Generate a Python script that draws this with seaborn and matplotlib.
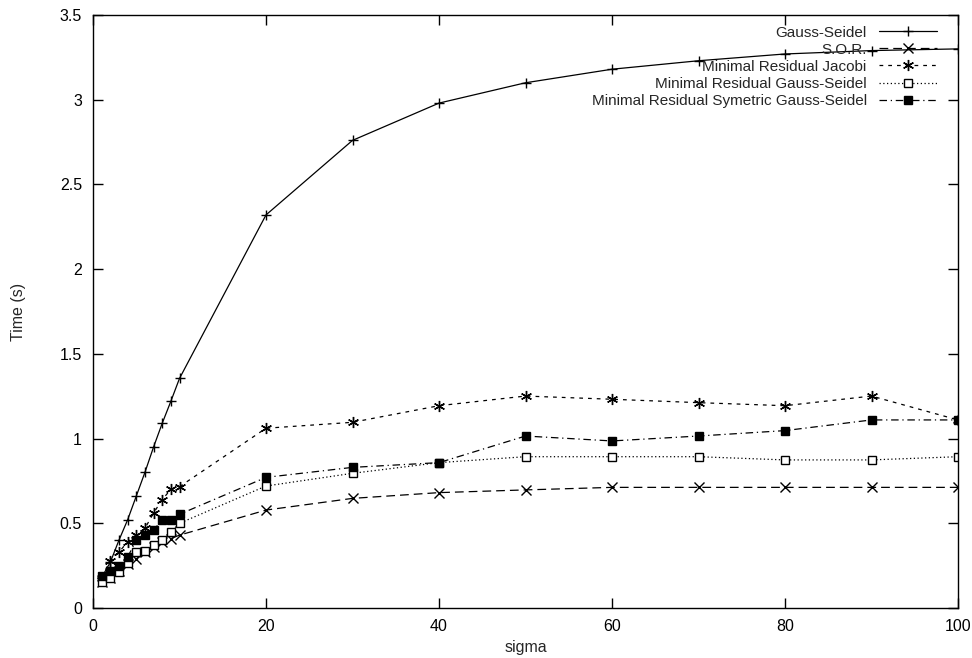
import matplotlib
matplotlib.use("Agg")
import matplotlib.pyplot as plt
import seaborn as sns
import pandas as pd

sigma = [1, 2, 3, 4, 5, 6, 7, 8, 9, 10, 20, 30, 40, 50, 60, 70, 80, 90, 100]

gauss_seidel = [0.18, 0.27, 0.40, 0.52, 0.66, 0.80, 0.95, 1.09, 1.22, 1.355,
                2.32, 2.76, 2.98, 3.10, 3.18, 3.23, 3.27, 3.29, 3.30]
sor = [0.155, 0.18, 0.22, 0.26, 0.29, 0.33, 0.36, 0.39, 0.41, 0.43,
       0.578, 0.647, 0.681, 0.697, 0.712, 0.712, 0.712, 0.712, 0.712]
mr_jacobi = [0.18, 0.28, 0.33, 0.39, 0.43, 0.47, 0.56, 0.64, 0.70, 0.716,
             1.061, 1.096, 1.194, 1.251, 1.232, 1.212, 1.194, 1.251, 1.11]
mr_gauss_seidel = [0.155, 0.175, 0.21, 0.265, 0.33, 0.335, 0.37, 0.40, 0.45, 0.50,
                   0.72, 0.795, 0.858, 0.893, 0.893, 0.893, 0.874, 0.874, 0.893]
mr_sym_gauss_seidel = [0.19, 0.22, 0.245, 0.30, 0.40, 0.43, 0.46, 0.52, 0.52, 0.553,
                       0.771, 0.83, 0.858, 1.015, 0.986, 1.015, 1.047, 1.11, 1.11]

labels = ["Gauss-Seidel", "S.O.R.", "Minimal Residual Jacobi",
          "Minimal Residual Gauss-Seidel", "Minimal Residual Symetric Gauss-Seidel"]
series = [gauss_seidel, sor, mr_jacobi, mr_gauss_seidel, mr_sym_gauss_seidel]

sns.set_style("ticks")
plt.rcParams['font.family'] = ['Liberation Sans', 'DejaVu Sans']
plt.rcParams['font.size'] = 11

fig = plt.figure(figsize=(9.72, 6.58), dpi=100)
ax = fig.add_axes([93/972, 50/658, (958-93)/972, (608-15)/658])

styles = [
    dict(linestyle='-', marker='+', markersize=7, mfc='black', mec='black'),
    dict(linestyle=(0, (7, 4)), marker='x', markersize=6.5, mfc='black', mec='black'),
    dict(linestyle=(0, (3, 4)), marker=(6, 2, 0), markersize=8, mfc='black', mec='black'),
    dict(linestyle=(0, (1, 2)), marker='s', markersize=6, mfc='white', mec='black'),
    dict(linestyle=(0, (6, 3, 1, 3)), marker='s', markersize=6, mfc='black', mec='black'),
]

for lab, vals, st in zip(labels, series, styles):
    df = pd.DataFrame({"sigma": sigma, "time": vals})
    sns.lineplot(data=df, x="sigma", y="time", ax=ax, color='black', linewidth=0.9,
                 label=lab, markeredgewidth=1.0, **st)

ax.set_xlim(0, 100)
ax.set_ylim(0, 3.5)
ax.set_xticks([0, 20, 40, 60, 80, 100])
ax.set_yticks([0, 0.5, 1, 1.5, 2, 2.5, 3, 3.5])
ax.set_yticklabels(["0", "0.5", "1", "1.5", "2", "2.5", "3", "3.5"])
ax.tick_params(direction='in', top=True, right=True, length=7, width=1,
               labelsize=11.5, pad=8, colors='black')
for sp in ax.spines.values():
    sp.set_visible(True)
    sp.set_linewidth(1.0)
    sp.set_color('black')
ax.set_xlabel("sigma", fontsize=11.5, labelpad=4)
ax.set_ylabel("Time (s)", fontsize=11.5, labelpad=24)

leg = ax.legend(loc='upper right', bbox_to_anchor=(0.988, 1.0), frameon=False,
                markerfirst=False, handlelength=3.8, handletextpad=0.8,
                labelspacing=0.2, fontsize=11, borderaxespad=0.3)

fig.savefig("out.png", dpi=100)
